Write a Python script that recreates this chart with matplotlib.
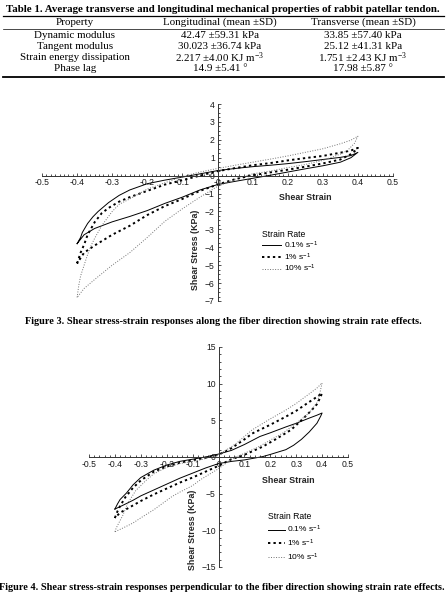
import numpy as np
import matplotlib
matplotlib.use("Agg")
import matplotlib.pyplot as plt
from matplotlib.ticker import MultipleLocator, FixedLocator

plt.rcParams['font.family'] = ['Liberation Sans', 'DejaVu Sans']
plt.rcParams['mathtext.default'] = 'regular'

# ---- table data ----
table_title = "Table 1. Average transverse and longitudinal mechanical properties of rabbit patellar tendon."
col_heads = ["Property", "Longitudinal (mean \u00b1SD)", "Transverse (mean \u00b1SD)"]
prop_names = ["Dynamic modulus", "Tangent modulus", "Strain energy dissipation", "Phase lag"]
long_vals = ["42.47 \u00b159.31 kPa", "30.023 \u00b136.74 kPa", "2.217 \u00b14.00 KJ m$^{-3}$", "14.9 \u00b15.41 \u00b0"]
trans_vals = ["33.85 \u00b157.40 kPa", "25.12 \u00b141.31 kPa", "1.751 \u00b12.43 KJ m$^{-3}$", "17.98 \u00b15.87 \u00b0"]

cap3 = "Figure 3. Shear stress-strain responses along the fiber direction showing strain rate effects."
cap4 = "Figure 4. Shear stress-strain responses perpendicular to the fiber direction showing strain rate effects."

rate_labels = ["0.1% s$^{-1}$", "1% s$^{-1}$", "10% s$^{-1}$"]

# ---- Figure 3 loops (along fiber): upper branch -0.4 -> 0.4, then lower branch back ----
f3_slow_x = [-0.40, -0.39, -0.385, -0.37, -0.355, -0.34, -0.31, -0.28, -0.25, -0.20, -0.15, -0.10, -0.05, 0.0, 0.05, 0.10, 0.15, 0.20, 0.25, 0.30, 0.35, 0.38, 0.40,
             0.39, 0.38, 0.35, 0.30, 0.25, 0.20, 0.15, 0.10, 0.05, 0.0, -0.05, -0.10, -0.15, -0.20, -0.25, -0.30, -0.35, -0.38, -0.40]
f3_slow_y = [-3.8, -3.45, -3.17, -2.67, -2.3, -2.0, -1.5, -1.1, -0.8, -0.45, -0.25, -0.08, 0.1, 0.28, 0.4, 0.5, 0.58, 0.67, 0.78, 0.9, 1.02, 1.12, 1.3,
             1.15, 1.0, 0.75, 0.55, 0.38, 0.2, 0.02, -0.15, -0.32, -0.5, -0.8, -1.2, -1.55, -1.95, -2.28, -2.58, -2.95, -3.3, -3.8]

f3_mid_x = [-0.40, -0.39, -0.38, -0.37, -0.35, -0.33, -0.31, -0.28, -0.25, -0.20, -0.15, -0.10, -0.05, 0.0, 0.05, 0.10, 0.15, 0.20, 0.25, 0.30, 0.35, 0.38, 0.40,
            0.39, 0.38, 0.35, 0.30, 0.25, 0.20, 0.15, 0.10, 0.05, 0.0, -0.05, -0.10, -0.15, -0.20, -0.25, -0.30, -0.35, -0.38, -0.40]
f3_mid_y = [-4.9, -4.3, -3.85, -3.3, -2.6, -2.1, -1.8, -1.45, -1.2, -0.85, -0.5, -0.25, 0.0, 0.25, 0.42, 0.58, 0.7, 0.85, 0.98, 1.1, 1.28, 1.4, 1.55,
            1.35, 1.2, 0.9, 0.68, 0.5, 0.33, 0.18, 0.02, -0.2, -0.5, -0.85, -1.3, -1.7, -2.2, -2.8, -3.3, -3.9, -4.3, -4.9]

f3_fast_x = [-0.40, -0.395, -0.39, -0.38, -0.37, -0.36, -0.35, -0.33, -0.30, -0.28, -0.25, -0.20, -0.15, -0.10, -0.05, 0.0, 0.05, 0.10, 0.15, 0.20, 0.25, 0.30, 0.35, 0.38, 0.40,
             0.39, 0.37, 0.35, 0.30, 0.25, 0.20, 0.15, 0.10, 0.05, 0.0, -0.05, -0.10, -0.15, -0.20, -0.25, -0.30, -0.35, -0.38, -0.40]
f3_fast_y = [-6.8, -6.1, -5.6, -5.0, -4.4, -3.9, -3.5, -2.8, -2.0, -1.6, -1.3, -0.75, -0.4, -0.05, 0.2, 0.4, 0.58, 0.75, 0.92, 1.1, 1.3, 1.5, 1.78, 1.98, 2.2,
             1.8, 1.4, 1.2, 0.85, 0.62, 0.45, 0.25, 0.1, -0.2, -0.6, -1.2, -1.85, -2.55, -3.45, -4.3, -5.0, -5.8, -6.3, -6.8]

# ---- Figure 4 loops (perpendicular) ----
f4_slow_x = [-0.40, -0.39, -0.38, -0.355, -0.33, -0.30, -0.25, -0.20, -0.15, -0.10, -0.05, 0.0, 0.05, 0.10, 0.16, 0.20, 0.26, 0.30, 0.35, 0.38, 0.40,
             0.395, 0.38, 0.35, 0.32, 0.29, 0.26, 0.20, 0.17, 0.10, 0.05, 0.0, -0.05, -0.10, -0.15, -0.20, -0.25, -0.30, -0.33, -0.37, -0.40]
f4_slow_y = [-7.1, -6.4, -5.8, -4.9, -3.8, -2.8, -1.8, -1.1, -0.6, -0.3, 0.0, 0.4, 0.9, 1.7, 2.8, 3.3, 4.1, 4.6, 5.3, 5.7, 6.0,
             5.6, 4.6, 3.4, 2.4, 1.6, 1.0, 0.35, 0.05, -0.4, -0.6, -0.9, -1.5, -2.2, -2.9, -3.7, -4.5, -5.3, -5.9, -6.6, -7.1]

f4_mid_x = [-0.40, -0.39, -0.38, -0.36, -0.33, -0.30, -0.25, -0.20, -0.15, -0.10, -0.05, 0.0, 0.05, 0.10, 0.13, 0.20, 0.26, 0.30, 0.35, 0.38, 0.40,
            0.39, 0.38, 0.36, 0.32, 0.28, 0.22, 0.17, 0.10, 0.05, 0.0, -0.05, -0.10, -0.15, -0.20, -0.25, -0.30, -0.35, -0.38, -0.40]
f4_mid_y = [-8.3, -7.4, -6.7, -5.5, -4.2, -3.2, -2.0, -1.3, -0.8, -0.45, -0.1, 0.3, 1.2, 2.4, 3.2, 4.4, 5.5, 6.3, 7.5, 8.2, 8.7,
            7.9, 7.2, 6.4, 5.0, 3.7, 2.4, 1.4, 0.3, -0.3, -1.2, -2.0, -2.8, -3.5, -4.3, -5.1, -6.0, -7.0, -7.6, -8.3]

f4_fast_x = [-0.40, -0.395, -0.385, -0.37, -0.35, -0.32, -0.28, -0.25, -0.20, -0.15, -0.10, -0.07, 0.0, 0.05, 0.07, 0.10, 0.13, 0.20, 0.26, 0.30, 0.35, 0.38, 0.40,
             0.39, 0.38, 0.35, 0.30, 0.25, 0.20, 0.15, 0.10, 0.05, 0.0, -0.07, -0.10, -0.15, -0.18, -0.25, -0.30, -0.33, -0.37, -0.40]
f4_fast_y = [-10.2, -9.7, -9.0, -8.0, -6.3, -4.6, -3.2, -2.3, -1.4, -0.9, -0.6, -0.4, 0.3, 1.4, 1.9, 2.8, 3.7, 5.2, 6.4, 7.3, 8.6, 9.4, 10.1,
             8.5, 7.4, 6.0, 4.6, 3.3, 2.3, 1.3, 0.5, -0.3, -1.6, -3.1, -3.9, -4.8, -5.4, -7.2, -8.3, -9.0, -9.7, -10.2]

W, H = 447, 599
fig = plt.figure(figsize=(W / 100, H / 100), dpi=100)

def fx(px):
    return px / W

def fy(py):
    return 1 - py / H

# ---- table ----
serif = ['Liberation Serif', 'DejaVu Serif']
fig.text(fx(223), fy(10), table_title, family=serif, weight='bold', fontsize=7.8, ha='center', va='center')
for yy, lw in [(15.5, 0.9), (28.5, 0.5), (77, 1.3)]:
    fig.add_artist(plt.Line2D([fx(3), fx(444)], [fy(yy), fy(yy)], color='k', lw=lw))
col_x = [75, 220, 363]
for cx, head in zip(col_x, col_heads):
    fig.text(fx(cx), fy(22.5), head, family=serif, fontsize=7.9, ha='center', va='center')
row_y = [35, 46.5, 57.5, 68.5]
for ry, a, b, c in zip(row_y, prop_names, long_vals, trans_vals):
    for cx, s in zip(col_x, [a, b, c]):
        fig.text(fx(cx), fy(ry), s, family=serif, fontsize=7.9, ha='center', va='center')

fig.text(fx(223), fy(322), cap3, family=serif, weight='bold', fontsize=7.4, ha='center', va='center')
fig.text(fx(222), fy(588), cap4, family=serif, weight='bold', fontsize=7.4, ha='center', va='center')

def style_axis(ax, xmin_px, xmax_px, ytop_px, ybot_px, ylim, ymaj, ymin_step, xminor):
    ax.set_position([fx(xmin_px), fy(ybot_px), (xmax_px - xmin_px) / W, (ybot_px - ytop_px) / H])
    ax.set_xlim(-0.5, 0.5)
    ax.set_ylim(*ylim)
    for s in ['top', 'right']:
        ax.spines[s].set_visible(False)
    for s in ['left', 'bottom']:
        ax.spines[s].set_position(('data', 0))
        ax.spines[s].set_linewidth(0.7)
        ax.spines[s].set_color('0.2')
    ax.set_facecolor('none')
    xt = np.round(np.arange(-0.5, 0.51, 0.1), 1)
    ax.xaxis.set_major_locator(FixedLocator(xt))
    ax.set_xticklabels(['%g' % v for v in xt])
    ax.xaxis.set_minor_locator(MultipleLocator(xminor))
    ax.yaxis.set_major_locator(MultipleLocator(ymaj))
    ax.yaxis.set_minor_locator(MultipleLocator(ymin_step))
    ax.tick_params(which='both', direction='in', width=0.6, colors='0.2', labelsize=6.2, pad=2)
    ax.tick_params(which='major', length=2.5)
    ax.tick_params(which='minor', length=1.5)
    ax.tick_params(labelcolor='0.1')

def draw_loops(ax, xs, ys):
    ax.plot(xs[0], ys[0], color='k', lw=0.7, ls='-')
    ax.plot(xs[1], ys[1], color='k', lw=1.4, ls=(0, (1.2, 1.6)))
    ax.plot(xs[2], ys[2], color='0.45', lw=0.7, ls=(0, (1, 1.6)))

# ---- Figure 3 axes ----
ax1 = fig.add_axes([0, 0, 1, 1])
style_axis(ax1, 42, 393, 104, 301, (-7, 4), 1, 0.25, 0.0125)
draw_loops(ax1, [f3_slow_x, f3_mid_x, f3_fast_x], [f3_slow_y, f3_mid_y, f3_fast_y])
ax1.text(0.749, 0.523, "Shear Strain", transform=ax1.transAxes, ha='center', va='center',
         fontsize=6.4, weight='bold', color='0.15')
ax1.text(0.436, 0.259, "Shear Stress (KPa)", transform=ax1.transAxes, ha='center', va='center',
         rotation=90, fontsize=6.4, weight='bold', color='0.15')
leg1 = ax1.legend(rate_labels, title="Strain Rate", frameon=False, fontsize=6.0, title_fontsize=6.2,
                  loc='upper left', bbox_to_anchor=(fx(258), fy(226)), bbox_transform=fig.transFigure,
                  handlelength=2.3, handletextpad=0.3, labelspacing=0.05, alignment='left', borderpad=0)

# ---- Figure 4 axes ----
ax2 = fig.add_axes([0, 0, 1, 1])
style_axis(ax2, 89, 348, 347, 567, (-15, 15), 5, 1, 0.02)
draw_loops(ax2, [f4_slow_x, f4_mid_x, f4_fast_x], [f4_slow_y, f4_mid_y, f4_fast_y])
ax2.text(0.768, 0.395, "Shear Strain", transform=ax2.transAxes, ha='center', va='center',
         fontsize=6.4, weight='bold', color='0.15')
ax2.text(0.398, 0.168, "Shear Stress (KPa)", transform=ax2.transAxes, ha='center', va='center',
         rotation=90, fontsize=6.4, weight='bold', color='0.15')
leg2 = ax2.legend(rate_labels, title="Strain Rate", frameon=False, fontsize=6.0, title_fontsize=6.2,
                  loc='upper left', bbox_to_anchor=(fx(264), fy(508)), bbox_transform=fig.transFigure,
                  handlelength=2.0, handletextpad=0.3, labelspacing=0.3, alignment='left', borderpad=0)

fig.savefig("out.png", dpi=100)
